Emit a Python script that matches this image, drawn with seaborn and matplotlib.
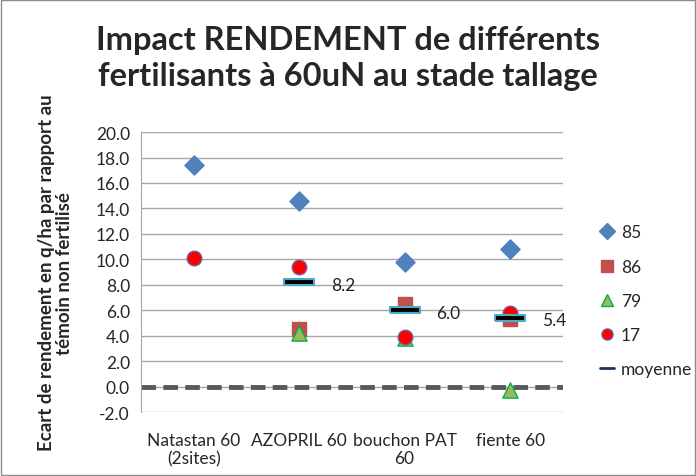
import numpy as np
import pandas as pd
import matplotlib
matplotlib.use("Agg")
import matplotlib.pyplot as plt
from matplotlib.lines import Line2D
import seaborn as sns

categories = ["Natastan 60\n(2sites)", "AZOPRIL 60", "bouchon PAT\n60", "fiente 60"]
s85 = [17.4, 14.6, 9.8, 10.8]
s86 = [np.nan, 4.5, 6.5, 5.3]
s79 = [np.nan, 4.2, 3.8, -0.3]
s17 = [10.1, 9.4, 3.9, 5.8]
moyenne = [np.nan, 8.2, 6.0, 5.4]
moy_labels = ["", "8.2", "6.0", "5.4"]

sns.set_style("white")
plt.rcParams["font.family"] = ["Lato", "DejaVu Sans"]

fig = plt.figure(figsize=(6.96, 4.77), dpi=100)
ax = fig.add_axes([0.2026, 0.134, 0.606, 0.587])

x = np.arange(len(categories))
series = [
    ("85", s85, "D", "#4f81bd", "#4f81bd", 95),
    ("86", s86, "s", "#c0504d", "#c0504d", 100),
    ("79", s79, "^", "#9bbb59", "#00b050", 120),
    ("17", s17, "o", "#ff0000", "#7060a0", 110),
]

ax.axhline(0, color="#595959", lw=3.5, ls=(0, (3, 1.5)), zorder=2)

for name, vals, mk, fc, ec, size in series:
    df = pd.DataFrame({"x": x, "y": vals}).dropna()
    sns.scatterplot(data=df, x="x", y="y", marker=mk, color=fc, edgecolor=ec,
                    linewidth=1, s=size, ax=ax, legend=False, zorder=3)

# moyenne: wide black bar with cyan edge
bar = [(-4, -0.9), (4, -0.9), (4, 0.9), (-4, 0.9), (-4, -0.9)]
dfm = pd.DataFrame({"x": x, "y": moyenne}).dropna()
sns.scatterplot(data=dfm, x="x", y="y", marker=bar, color="black", edgecolor="#4bacc6",
                linewidth=1.5, s=480, ax=ax, legend=False, zorder=4)
for xi, v, lab in zip(x, moyenne, moy_labels):
    if lab:
        ax.text(xi + 0.3, v - 0.2, lab, va="center", ha="left", fontsize=12.5, color="#222222", zorder=5)

ax.set_xlim(-0.5, 3.5)
ax.set_ylim(-2, 20)
ax.set_yticks(np.arange(-2, 20.1, 2))
ax.set_yticklabels([f"{v:.1f}" for v in np.arange(-2, 20.1, 2)], fontsize=12.5)
ax.set_xticks(x)
ax.set_xticklabels(categories, fontsize=12.5)
ax.tick_params(axis="x", length=0, pad=14)
ax.tick_params(axis="y", length=0, pad=8)
ax.grid(axis="y", color="#a6a6a6", lw=1)
ax.set_axisbelow(True)
for sp in ["top", "right", "bottom"]:
    ax.spines[sp].set_visible(False)
ax.spines["left"].set_color("#a6a6a6")
ax.set_xlabel("")
ax.set_ylabel("Ecart de rendement en q/ha par rapport au\ntémoin non fertilisé",
              fontsize=13.5, fontweight="bold", labelpad=16, linespacing=1.1)

fig.suptitle("Impact RENDEMENT de différents\nfertilisants à 60uN au stade tallage",
             fontsize=23.5, fontweight="bold", y=0.945, linespacing=1.3)

handles = [Line2D([], [], ls="", marker=mk, markerfacecolor=fc, markeredgecolor=ec, markersize=8)
           for _, _, mk, fc, ec, _ in series]
handles.append(Line2D([], [], color="#17365d", lw=2))
leg = fig.legend(handles, ["85", "86", "79", "17", "moyenne"], loc="center left",
                 bbox_to_anchor=(0.84, 0.367), frameon=False, fontsize=12.5,
                 handlelength=0.8, handletextpad=0.4, labelspacing=1.05)

fig.patches.append(plt.Rectangle((0.002, 0.002), 0.996, 0.996, transform=fig.transFigure,
                                 fill=False, edgecolor="#8c8c8c", lw=1))

fig.savefig("out.png", dpi=100)
